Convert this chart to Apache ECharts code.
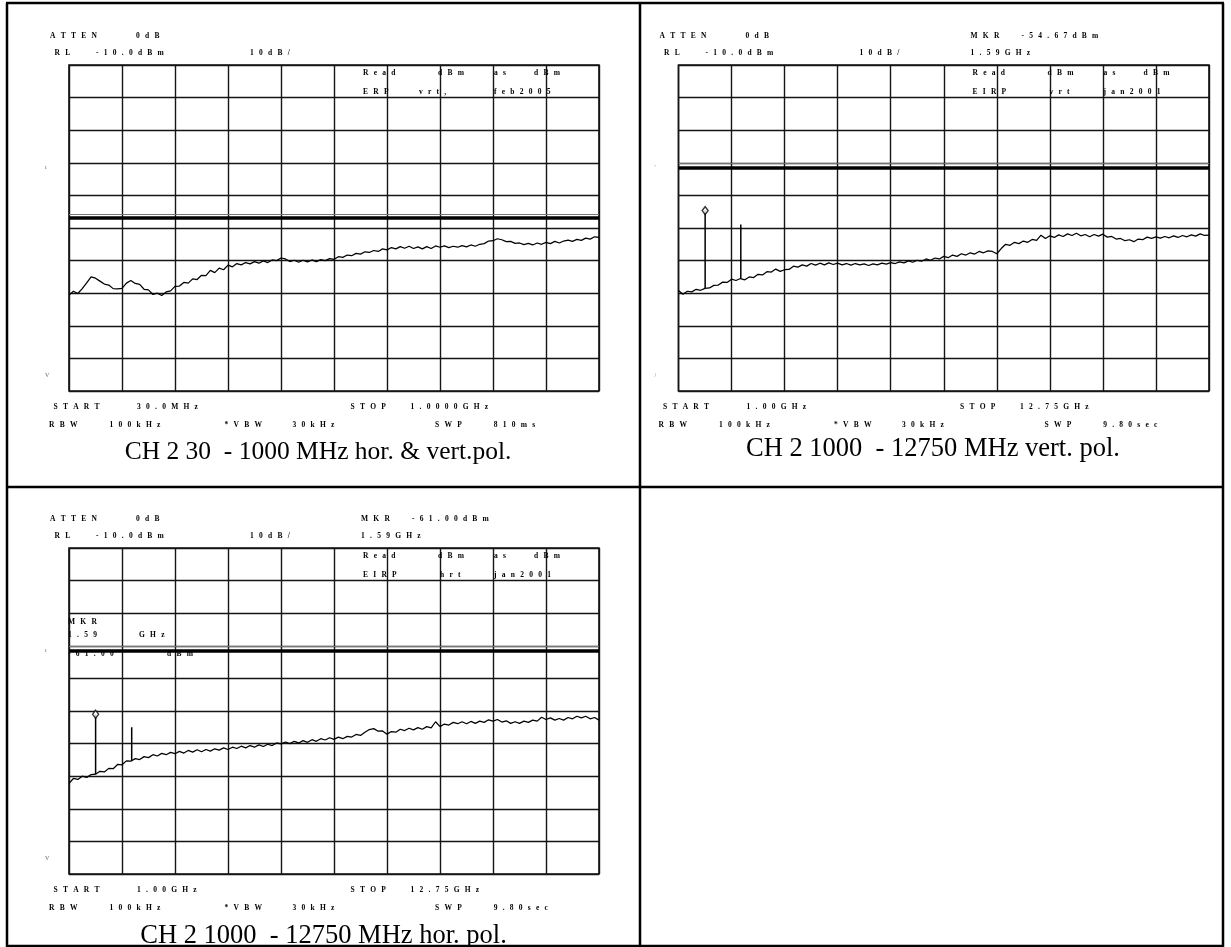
<!DOCTYPE html>
<html><head><meta charset="utf-8">
<script src="https://cdn.jsdelivr.net/npm/echarts@6/dist/echarts.min.js"></script>
<style>html,body{margin:0;padding:0;background:#fff}#c{width:1231px;height:947px}</style>
</head><body><div id="c"></div>
<script>
// ---------------- DATA ----------------
// sweep ranges
const sweepLow = [30, 1000];          // MHz, panel 1
const sweepHigh = [1.00, 12.75];      // GHz, panels 2 and 3
// amplitude scale: reference level -10 dBm, 10 dB/div, 10 divisions
const yScale = [-110, -10, 10];

// trace, panel 1 (30-1000 MHz, hor. & vert.), dBm
const trace1 = [
-80.6,-79.4,-80.1,-78.6,-76.8,-75.0,-75.4,-76.3,-77.2,-77.5,
-78.6,-78.7,-78.5,-76.9,-76.1,-77.0,-77.3,-78.8,-79.0,-80.4,
-80.0,-80.7,-79.6,-79.3,-77.9,-77.8,-76.7,-76.9,-75.6,-75.8,
-74.5,-74.6,-73.0,-73.7,-72.3,-72.8,-71.4,-71.9,-70.9,-71.3,
-70.6,-71.0,-70.3,-70.8,-70.1,-70.6,-69.8,-70.0,-69.2,-69.5,
-70.3,-69.9,-70.5,-69.9,-70.4,-69.8,-70.3,-69.7,-70.0,-69.4,
-69.6,-68.8,-69.0,-68.3,-68.5,-67.8,-68.0,-67.3,-67.5,-66.9,
-67.2,-66.4,-66.7,-66.0,-66.4,-65.7,-66.2,-65.6,-66.3,-65.8,
-66.4,-65.7,-66.3,-65.5,-65.9,-65.5,-66.0,-65.6,-65.9,-65.4,
-65.8,-65.2,-65.6,-65.0,-64.8,-64.0,-63.9,-63.3,-63.6,-64.2,
-64.1,-64.7,-64.6,-65.1,-64.7,-65.2,-64.6,-65.0,-64.4,-64.8,
-64.1,-64.6,-64.0,-63.7,-64.1,-63.5,-63.8,-63.1,-63.4,-62.7,
-62.9];
// trace, panel 2 (1-12.75 GHz, vert.), dBm
const trace2 = [
-79.2,-80.3,-79.4,-79.6,-78.8,-79.1,-78.5,-78.4,-77.6,-77.5,
-76.6,-76.7,-75.7,-76.1,-75.5,-75.9,-75.0,-75.2,-74.2,-74.4,
-73.4,-73.5,-72.6,-73.3,-72.8,-72.7,-71.7,-72.0,-71.3,-71.7,
-70.9,-71.4,-70.8,-71.3,-70.7,-71.2,-70.8,-71.3,-70.9,-71.4,
-70.9,-71.3,-71.0,-71.5,-71.0,-71.3,-70.8,-71.1,-70.6,-70.9,
-70.4,-70.7,-70.1,-70.5,-69.9,-70.2,-69.5,-69.9,-69.2,-69.5,
-68.7,-69.1,-68.3,-68.7,-67.9,-68.3,-67.6,-68.0,-67.2,-67.6,
-67.0,-67.2,-67.9,-66.3,-65.0,-65.3,-64.4,-64.8,-64.0,-64.4,
-63.5,-63.8,-62.2,-63.2,-62.4,-62.9,-62.1,-62.6,-61.8,-62.3,
-61.6,-62.4,-62.0,-62.7,-62.0,-62.5,-61.9,-62.8,-62.6,-63.4,
-63.2,-63.9,-63.6,-64.2,-63.4,-63.6,-62.8,-63.2,-62.7,-63.1,
-62.6,-63.0,-62.4,-62.9,-62.3,-62.7,-62.1,-62.5,-61.8,-62.3,
-62.2];
// trace, panel 3 (1-12.75 GHz, hor.), dBm
const trace3 = [
-82.2,-80.7,-81.0,-80.0,-80.4,-79.5,-79.4,-78.5,-78.7,-77.6,
-77.7,-76.4,-76.5,-75.3,-75.4,-74.6,-74.9,-74.0,-74.3,-73.4,
-73.8,-73.0,-73.4,-72.7,-73.1,-72.4,-72.9,-72.1,-72.6,-71.9,
-72.5,-71.8,-72.3,-71.6,-72.0,-71.3,-71.8,-71.1,-71.5,-70.8,
-71.3,-70.6,-71.1,-70.4,-70.9,-70.2,-70.6,-69.8,-70.1,-69.5,
-70.0,-69.3,-69.8,-69.1,-69.6,-68.8,-69.3,-68.5,-68.9,-68.2,
-68.7,-68.0,-68.5,-67.8,-68.0,-67.2,-67.5,-66.5,-65.7,-65.4,
-66.2,-66.1,-67.1,-66.3,-66.5,-65.6,-66.0,-65.3,-65.8,-65.1,
-65.6,-64.8,-65.2,-63.3,-64.8,-64.0,-64.3,-63.5,-63.9,-63.3,
-63.9,-63.2,-63.8,-63.1,-63.5,-62.7,-63.1,-62.6,-63.4,-63.0,
-63.8,-63.3,-63.8,-63.1,-63.5,-62.8,-63.1,-61.9,-62.6,-62.1,
-62.8,-62.3,-62.8,-62.0,-62.4,-61.6,-62.1,-61.6,-62.4,-62.0,
-62.8];

// limit lines (dBm) and the thin companion line just above
const limitLevels = [-56.8, -41.4, -41.4];
const limitShadow = [-55.8, -40.0, -40.0];

// discrete spurs (GHz / dBm)
const spurFreqs2 = [1.59, 2.38];
const spurBases2 = [-78.5, -75.5];
const spurTops2 = [-54.67, -58.9];
const spurFreqs3 = [1.59, 2.39];
const spurBases3 = [-79.4, -75.3];
const spurTops3 = [-61.00, -65.0];

// ---------------- TEXT ----------------
const attenRow = ['ATTEN', '0dB'];
const rlRow = ['RL', '-10.0dBm', '10dB/'];
const mkrHeader2 = ['MKR', '-54.67dBm', '1.59GHz'];
const mkrHeader3 = ['MKR', '-61.00dBm', '1.59GHz'];
const titleRow1 = ['Read', 'dBm', 'as', 'dBm'];
const titleRow2p1 = ['ERP', 'vrt,', 'feb2005'];
const titleRow2p2 = ['EIRP', 'vrt', 'jan2001'];
const titleRow2p3 = ['EIRP', 'hrt', 'jan2001'];
const freqRowLow = ['START', '30.0MHz', 'STOP', '1.0000GHz'];
const freqRowHigh = ['START', '1.00GHz', 'STOP', '12.75GHz'];
const bwRowLow = ['RBW', '100kHz', '*VBW', '30kHz', 'SWP', '810ms'];
const bwRowHigh = ['RBW', '100kHz', '*VBW', '30kHz', 'SWP', '9.80sec'];
const mkrReadout3 = ['MKR', '1.59', 'GHz', '-61.00', 'dBm'];
const captions = [
  'CH 2 30  - 1000 MHz hor. & vert.pol.',
  'CH 2 1000  - 12750 MHz vert. pol.',
  'CH 2 1000  - 12750 MHz hor. pol.'
];
const edgeMarks = [['ı', 'V'], ["'", '/'], ['ı', 'V']];

// ---------------- BUILD ----------------
const panels = [
  {ox: 69, oy: 65, w: 530, h: 326, sweep: sweepLow, trace: trace1},
  {ox: 678.5, oy: 65, w: 530.5, h: 326, sweep: sweepHigh, trace: trace2},
  {ox: 69, oy: 548, w: 530, h: 326, sweep: sweepHigh, trace: trace3}
];
const bins = (sw, n) => Array.from({length: n}, (_, i) => sw[0] + i * (sw[1] - sw[0]) / (n - 1));

const grids = [], xAxes = [], yAxes = [], series = [];
const gridLine = {color: '#151515', width: 1.4};
panels.forEach((p, k) => {
  grids.push({left: p.ox, top: p.oy, width: p.w, height: p.h, show: true,
    borderColor: '#111', borderWidth: 1.6, backgroundColor: 'transparent'});
  xAxes.push({type: 'value', gridIndex: k, min: p.sweep[0], max: p.sweep[1], show: false});
  xAxes.push({type: 'value', gridIndex: k, min: 0, max: 10, interval: 1,
    axisLabel: {show: false}, axisTick: {show: false}, axisLine: {show: false},
    splitLine: {show: true, lineStyle: gridLine}});
  yAxes.push({type: 'value', gridIndex: k, min: yScale[0], max: yScale[1], interval: yScale[2],
    axisLabel: {show: false}, axisTick: {show: false}, axisLine: {show: false},
    splitLine: {show: true, lineStyle: gridLine}});
  const f = bins(p.sweep, p.trace.length);
  series.push({type: 'line', xAxisIndex: 2 * k, yAxisIndex: k, z: 5,
    data: f.map((v, i) => [v, p.trace[i]]), symbol: 'none', animation: false,
    lineStyle: {color: '#000', width: 1.25},
    markLine: {silent: true, symbol: 'none', animation: false, label: {show: false},
      data: [
        {yAxis: limitShadow[k], lineStyle: {color: '#777', width: 1, type: 'solid'}},
        {yAxis: limitLevels[k], lineStyle: {color: '#000', width: 3.6, type: 'solid'}}
      ]}});
});
function addSpurs(k, freqs, bases, tops) {
  freqs.forEach((f, i) => {
    series.push({type: 'line', xAxisIndex: 2 * k, yAxisIndex: k, z: 6, symbol: 'none', animation: false,
      data: [[f, bases[i]], [f, tops[i]]], lineStyle: {color: '#000', width: 1.5}});
  });
  series.push({type: 'scatter', xAxisIndex: 2 * k, yAxisIndex: k, z: 7, animation: false,
    symbol: 'diamond', symbolSize: [6, 8], data: [[freqs[0], tops[0]]],
    itemStyle: {color: '#fff', borderColor: '#000', borderWidth: 1.4}});
}
addSpurs(1, spurFreqs2, spurBases2, spurTops2);
addSpurs(2, spurFreqs3, spurBases3, spurTops3);

// graphic texts
const sp = s => s.split('').join('\u2002\u2009');
const gfx = [];
function t(s, x, y) {
  gfx.push({type: 'text', x: x, y: y, silent: true, z: 20,
    style: {text: sp(s), fill: '#000', fontSize: 7.5, fontWeight: 'bold', fontFamily: 'Liberation Serif',
      textAlign: 'left', textVerticalAlign: 'middle', align: 'left', verticalAlign: 'middle'}});
}
function row(tokens, offs, ox, y) { tokens.forEach((s, i) => t(s, ox + offs[i], y)); }

const mkrHeaders = [null, mkrHeader2, mkrHeader3];
const titleRows2 = [titleRow2p1, titleRow2p2, titleRow2p3];
const freqRows = [freqRowLow, freqRowHigh, freqRowHigh];
const bwRows = [bwRowLow, bwRowHigh, bwRowHigh];
panels.forEach((p, k) => {
  const ox = p.ox, oy = p.oy;
  row(attenRow, [-19, 67], ox, oy - 28.5);
  row(rlRow, [-14.5, 27, 181], ox, oy - 12);
  if (mkrHeaders[k]) {
    t(mkrHeaders[k][0], ox + 292, oy - 28.5);
    t(mkrHeaders[k][1], ox + 343, oy - 28.5);
    t(mkrHeaders[k][2], ox + 292, oy - 12);
  }
  row(titleRow1, [294, 369, 425, 465], ox, oy + 8.3);
  row(titleRows2[k], [294, k === 0 ? 350 : 371, 425], ox, oy + 26.7);
  row(freqRows[k], [-15.5, 68, 281.5, 341.5], ox, oy + 341.7);
  row(bwRows[k], [-20, 40.5, 155.5, 223.5, 366, 424.7], ox, oy + 360);
  gfx.push({type: 'text', x: ox - 24, y: oy + 102, silent: true,
    style: {text: edgeMarks[k][0], fill: '#666', fontSize: 6, fontFamily: 'Liberation Serif',
      textVerticalAlign: 'middle', verticalAlign: 'middle'}});
  gfx.push({type: 'text', x: ox - 24, y: oy + 310, silent: true,
    style: {text: edgeMarks[k][1], fill: '#666', fontSize: 6, fontFamily: 'Liberation Serif',
      textVerticalAlign: 'middle', verticalAlign: 'middle'}});
});
// marker readout inside panel 3
(function () {
  const p = panels[2];
  t(mkrReadout3[0], p.ox - 1, p.oy + 74.4);
  t(mkrReadout3[1], p.ox - 1, p.oy + 86.7);
  t(mkrReadout3[2], p.ox + 70, p.oy + 86.7);
  t(mkrReadout3[3], p.ox - 1, p.oy + 105.7);
  t(mkrReadout3[4], p.ox + 98, p.oy + 105.7);
})();
// captions
const capPos = [[318, 452, 25.5], [933, 449, 26.5], [323.5, 936, 26.5]];
captions.forEach((c, i) => gfx.push({type: 'text', x: capPos[i][0], y: capPos[i][1], silent: true,
  style: {text: c, fill: '#000', fontSize: capPos[i][2], fontFamily: 'Liberation Serif',
    textAlign: 'center', align: 'center', textVerticalAlign: 'middle', verticalAlign: 'middle'}}));
// table borders
const tbl = [[7, 3, 7, 947], [640, 3, 640, 947], [1223, 3, 1223, 947],
  [6, 3, 1224, 3], [6, 487, 1224, 487], [6, 946, 1224, 946]];
tbl.forEach(l => gfx.push({type: 'line', silent: true, z: 30,
  shape: {x1: l[0], y1: l[1], x2: l[2], y2: l[3]}, style: {stroke: '#000', lineWidth: 2.5}}));

const chart = echarts.init(document.getElementById('c'), null, {renderer: 'canvas', width: 1231, height: 947});
chart.setOption({
  backgroundColor: '#fff',
  animation: false,
  grid: grids, xAxis: xAxes, yAxis: yAxes, series: series,
  graphic: {elements: gfx}
});
</script></body></html>
